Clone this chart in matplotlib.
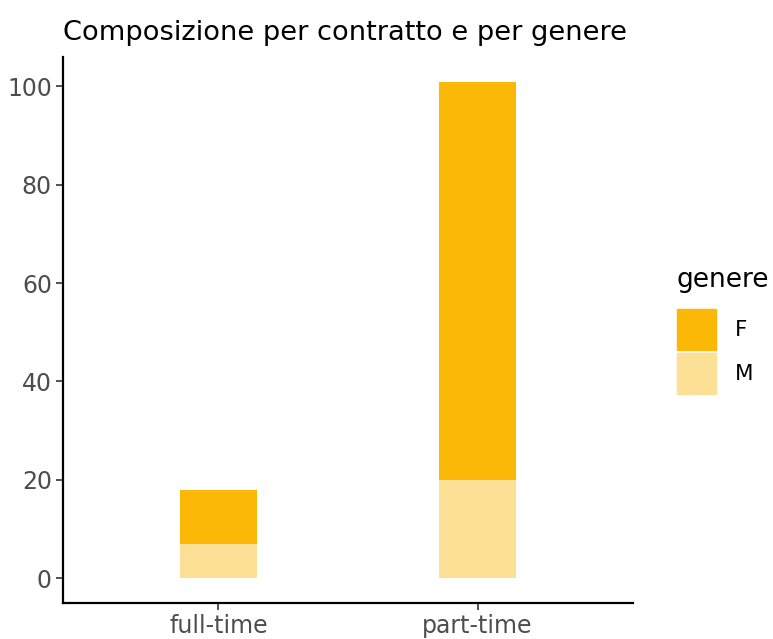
import numpy as np
import matplotlib
matplotlib.use('Agg')
import matplotlib.pyplot as plt
from matplotlib.patches import Patch

contratti = ['full-time', 'part-time']
valori_m = [7, 20]
valori_f = [11, 81]
colore_f = '#FBB807'
colore_m = '#FBE096'

fig = plt.figure(figsize=(7.73, 6.39), dpi=100)
ax = fig.add_axes([0.0815, 0.0563, 0.7375, 0.855])

x = np.arange(1, len(contratti) + 1)
ax.bar(x, valori_m, width=0.3, color=colore_m, linewidth=0)
ax.bar(x, valori_f, width=0.3, bottom=valori_m, color=colore_f, linewidth=0)

totale = max(m + f for m, f in zip(valori_m, valori_f))
ax.set_xlim(0.4, 2.6)
ax.set_ylim(-0.05 * totale, 1.05 * totale)
ax.set_xticks(x)
ax.set_xticklabels(contratti)
ax.set_yticks([0, 20, 40, 60, 80, 100])

for s in ['top', 'right']:
    ax.spines[s].set_visible(False)
for s in ['left', 'bottom']:
    ax.spines[s].set_linewidth(1.6)
    ax.spines[s].set_color('black')
ax.tick_params(axis='both', colors='#333333', labelcolor='#4D4D4D', labelsize=17,
               length=5, width=1.2, pad=3)

ax.set_title('Composizione per contratto e per genere', loc='left', fontsize=19.6,
             pad=12, x=0.0)

# titolo legenda separato per controllare la spaziatura
fig.text(676 / 773, 1 - 280 / 639, 'genere', fontsize=19, va='center', ha='left')
handles = [Patch(color=colore_f, label='F'), Patch(color=colore_m, label='M')]
leg = fig.legend(handles=handles, loc='upper left',
                 bbox_to_anchor=(677 / 773, 1 - 309 / 639), frameon=False,
                 fontsize=15.5, handlelength=1.8, handleheight=2.55,
                 labelspacing=0.15, handletextpad=0.9,
                 borderpad=0, borderaxespad=0)

fig.savefig('out.png', dpi=100)
